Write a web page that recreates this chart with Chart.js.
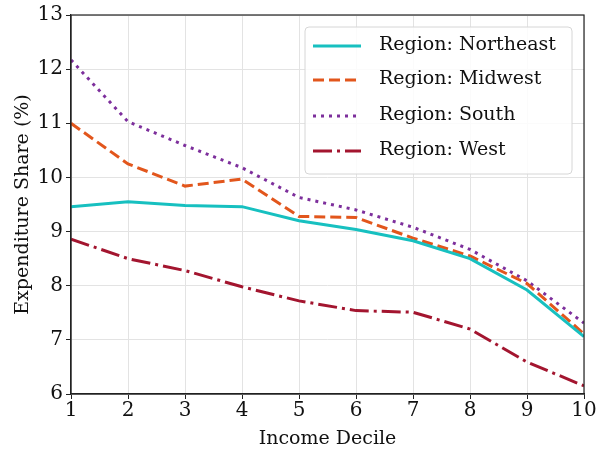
<!DOCTYPE html>
<html>
<head>
<meta charset="utf-8">
<script src="https://cdn.jsdelivr.net/npm/chart.js@4"></script>
<style>
  html, body { margin: 0; padding: 0; background: #fff; }
  #wrap { width: 604px; height: 452px; }
</style>
</head>
<body>
<div id="wrap"><canvas id="c" width="604" height="452"></canvas></div>
<script>
// Income deciles and expenditure share (%) by region
const deciles = [1, 2, 3, 4, 5, 6, 7, 8, 9, 10];
const northeast = [9.46, 9.55, 9.48, 9.46, 9.20, 9.04, 8.83, 8.50, 7.92, 7.06];
const midwest   = [11.00, 10.25, 9.84, 9.97, 9.28, 9.26, 8.88, 8.55, 8.04, 7.11];
const south     = [12.17, 11.03, 10.59, 10.18, 9.63, 9.40, 9.08, 8.67, 8.09, 7.31];
const west      = [8.86, 8.50, 8.28, 7.98, 7.72, 7.54, 7.51, 7.20, 6.59, 6.15];
const seriesNames = ['Region: Northeast', 'Region: Midwest', 'Region: South', 'Region: West'];
const yTicks = [6, 7, 8, 9, 10, 11, 12, 13];

const FONT = '"DejaVu Serif", "Liberation Serif", serif';

const styles = [
  { color: '#17c0c0', dash: [] },
  { color: '#e2561c', dash: [11, 5] },
  { color: '#7d2f9c', dash: [3, 5] },
  { color: '#a3152f', dash: [19, 5, 3, 5] }
];

function pts(arr) { return deciles.map((d, i) => ({ x: d, y: arr[i] })); }
const values = [northeast, midwest, south, west];

const datasets = values.map((v, i) => ({
  label: seriesNames[i],
  data: pts(v),
  borderColor: styles[i].color,
  backgroundColor: styles[i].color,
  borderDash: styles[i].dash,
  borderWidth: 3,
  borderCapStyle: 'butt',
  pointRadius: 0,
  tension: 0,
  fill: false
}));

// Frame on all four sides plus the in-plot legend box
const framePlugin = {
  id: 'frameAndLegend',
  afterDraw(chart) {
    const { ctx, chartArea: a } = chart;
    ctx.save();
    ctx.strokeStyle = '#222';
    ctx.lineWidth = 1.2;
    ctx.setLineDash([]);
    ctx.strokeRect(a.left, a.top, a.right - a.left, a.bottom - a.top);

    // legend
    const bx = a.left + 234, by = a.top + 12, bw = 267, bh = 147;
    ctx.fillStyle = 'rgba(255,255,255,0.85)';
    ctx.strokeStyle = '#d6d6d6';
    ctx.lineWidth = 1;
    ctx.beginPath();
    ctx.roundRect(bx, by, bw, bh, 4);
    ctx.fill();
    ctx.stroke();

    ctx.font = '19px ' + FONT;
    ctx.textBaseline = 'middle';
    ctx.textAlign = 'left';
    const rows = [by + 19, by + 53, by + 89, by + 124];
    seriesNames.forEach((name, i) => {
      const y = rows[i];
      ctx.strokeStyle = styles[i].color;
      ctx.lineWidth = 3;
      ctx.setLineDash(styles[i].dash);
      ctx.beginPath();
      ctx.moveTo(bx + 8, y);
      ctx.lineTo(bx + 56, y);
      ctx.stroke();
      ctx.setLineDash([]);
      ctx.fillStyle = '#111';
      ctx.fillText(name, bx + 74, y - 1);
    });
    ctx.restore();
  }
};

new Chart(document.getElementById('c'), {
  type: 'line',
  data: { datasets },
  plugins: [framePlugin],
  options: {
    responsive: false,
    animation: false,
    layout: { padding: { top: 12, right: 20, left: 0, bottom: 0 } },
    plugins: {
      legend: { display: false },
      tooltip: { enabled: false }
    },
    scales: {
      x: {
        type: 'linear',
        min: 1,
        max: 10,
        afterBuildTicks(scale) { scale.ticks = deciles.map(v => ({ value: v })); },
        afterFit(scale) { scale.height = 58; },
        ticks: {
          color: '#111',
          font: { family: FONT, size: 20 },
          padding: 0,
          maxRotation: 0
        },
        grid: { color: '#e3e3e3', lineWidth: 1, tickLength: 5, tickColor: '#222' },
        border: { color: '#222', width: 1.2 },
        title: {
          display: true,
          text: 'Income Decile',
          color: '#111',
          font: { family: FONT, size: 19 },
          padding: { top: 0, bottom: 2 }
        }
      },
      y: {
        type: 'linear',
        min: 6,
        max: 13,
        afterBuildTicks(scale) { scale.ticks = yTicks.map(v => ({ value: v })); },
        afterFit(scale) { scale.width = 71; },
        ticks: {
          color: '#111',
          font: { family: FONT, size: 20 },
          padding: 3
        },
        grid: { color: '#e3e3e3', lineWidth: 1, tickLength: 5, tickColor: '#222' },
        border: { color: '#222', width: 1.2 },
        title: {
          display: true,
          text: 'Expenditure Share (%)',
          color: '#111',
          font: { family: FONT, size: 19 },
          padding: { top: 12, bottom: 0 }
        }
      }
    }
  }
});
</script>
</body>
</html>
